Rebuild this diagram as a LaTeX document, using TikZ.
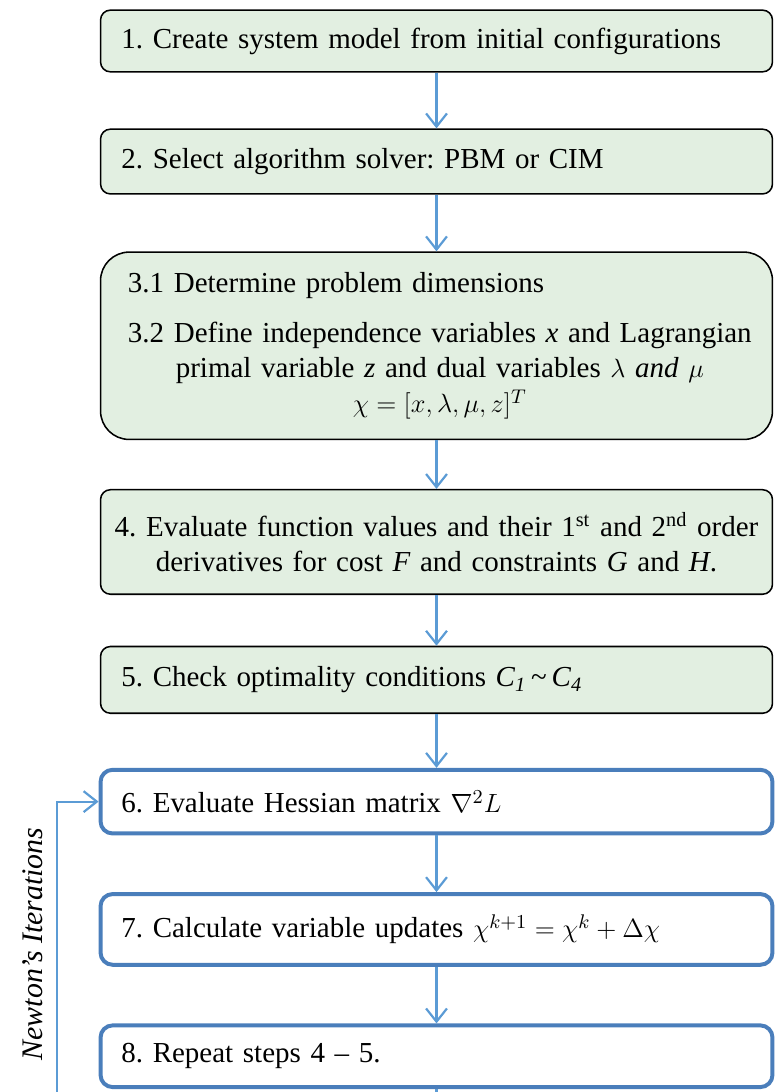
\documentclass[tikz,border=0pt]{standalone}
\usepackage{fontspec}
\setmainfont{Liberation Serif}
\usepackage{xcolor}
\definecolor{stepgreen}{HTML}{E2EFE1}
\definecolor{loopblue}{HTML}{4A7EBB}
\definecolor{arrowblue}{HTML}{5B9BD5}
\usepackage{tikz}
\usetikzlibrary{arrows.meta, positioning}
\frenchspacing
\tikzset{
  fbox/.style ={rectangle, rounded corners=4.5pt, draw=black, line width=0.7pt, fill=stepgreen,
                text width=287pt, inner xsep=9.5pt, inner ysep=2pt, align=left,
                font=\fontsize{13.2}{15.9}\selectfont},
  fboxb/.style={rectangle, rounded corners=5.5pt, draw=loopblue, line width=1.8pt, fill=white,
                text width=287pt, inner xsep=9.5pt, inner ysep=2pt, align=left,
                font=\fontsize{13.2}{15.9}\selectfont},
  farr/.style ={-{Straight Barb[length=6pt, width=9.5pt, line width=1pt]}, line width=1pt, color=arrowblue},
  fline/.style={line width=1pt, color=arrowblue},
  flbl/.style ={rotate=90, font=\fontsize{13.6}{15.9}\selectfont\itshape, inner sep=0pt},
}

\begin{document}
\begin{tikzpicture}[x=0.016cm, y=0.016cm]
  \useasboundingbox (0,0) rectangle (775,-1092);
  \clip (0,0) rectangle (775,-1092);
  \node[fbox, minimum height=28.1pt] (b1) at (436.5,-41) {1. Create system model from initial configurations};
  \node[fbox, minimum height=29.5pt, below=25.4pt of b1] (b2) {2. Select algorithm solver: PBM or CIM};
  \node[fbox, minimum height=85.3pt, rounded corners=13pt, inner xsep=12.5pt, text width=281pt, below=25.8pt of b2] (b3)
    {\begin{tabular}{@{}l@{}}
      3.1 Determine problem dimensions\\[7pt]
      3.2 Define independence variables \textit{x} and Lagrangian\\
      \multicolumn{1}{@{}c@{}}{primal variable \textit{z} and dual variables $\lambda$ $\mathit{and}$ $\mu$}\\
      \multicolumn{1}{@{}c@{}}{$\chi=[x,\lambda,\mu,z]^T$}
    \end{tabular}};
  \node[fbox, minimum height=47.6pt, align=center, inner xsep=2pt, text width=302pt, below=22.2pt of b3] (b4)
    {4. Evaluate function values and their 1\textsuperscript{st} and 2\textsuperscript{nd} order\\
     derivatives for cost \textit{F} and constraints \textit{G} and \textit{H}.};
  \node[fbox, minimum height=30.4pt, below=23.1pt of b4] (b5) {5. Check optimality conditions \textit{C\textsubscript{1}}\,\textasciitilde\,\textit{C\textsubscript{4}}};
  \node[fboxb, minimum height=29pt, below=24.5pt of b5] (b6) {6. Evaluate Hessian matrix $\nabla^2 L$};
  \node[fboxb, minimum height=32.2pt, below=25.8pt of b6] (b7) {7. Calculate variable updates $\chi^{k+1}=\chi^k+\Delta\chi$};
  \node[fboxb, minimum height=28.1pt, below=25.8pt of b7] (b8) {8. Repeat steps 4 -- 5.};
  \coordinate (tail) at (436.5,-1110);
  \coordinate (loopfoot) at (57,-1110);
  \node[flbl] (newton) at (33,-944) {Newton’s Iterations};
  \draw[farr] (b1) -- (b2);
  \draw[farr] (b2) -- (b3);
  \draw[farr] (b3) -- (b4);
  \draw[farr] (b4) -- (b5);
  \draw[farr] (b5) -- (b6);
  \draw[farr] (b6) -- (b7);
  \draw[farr] (b7) -- (b8);
  \draw[fline] (b8) -- (tail);
  \draw[farr] (loopfoot) |- (b6.west);
\end{tikzpicture}
\end{document}
